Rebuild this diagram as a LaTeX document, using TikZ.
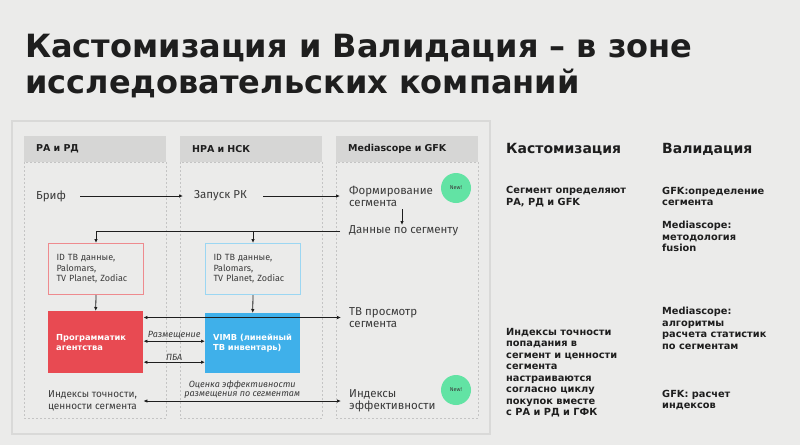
\documentclass[tikz,border=0pt]{standalone}
\usepackage{fontspec}
\setmainfont{Fira Sans}
\newfontfamily\heavyfont{DejaVu Sans}
\usetikzlibrary{arrows.meta}
\definecolor{bg}{HTML}{EBEBEA}
\definecolor{framec}{HTML}{D9D9D8}
\definecolor{hdrfill}{HTML}{D6D6D5}
\definecolor{dashc}{HTML}{C4C4C4}
\definecolor{txt}{HTML}{3A3A3A}
\definecolor{dark}{HTML}{1E1E1E}
\definecolor{redc}{HTML}{E84A52}
\definecolor{bluec}{HTML}{3FB0EA}
\definecolor{redline}{HTML}{EE8A8E}
\definecolor{blueline}{HTML}{9BD6F2}
\definecolor{newg}{HTML}{62E3A4}
\begin{document}
\begin{tikzpicture}[x=1pt,y=-1pt,
 lbl/.style={inner sep=0pt, anchor=west, align=left, text=txt, font=\fontsize{11.5}{12}\selectfont},
 hdr/.style={fill=hdrfill, anchor=north west, minimum height=26pt, inner xsep=12pt, text width=118pt, align=left, text=dark, font=\heavyfont\bfseries\fontsize{9.5}{10}\selectfont},
 idbox/.style={anchor=north west, fill=bg, line width=1pt, minimum width=95pt, minimum height=51pt, inner xsep=8pt, text width=79pt, align=left, text=txt, font=\fontsize{9}{10.5}\selectfont},
 solidbox/.style={anchor=north west, minimum width=95pt, inner xsep=8pt, text width=79pt, align=left, text=white, font=\heavyfont\bfseries\fontsize{8.3}{10}\selectfont},
 col/.style={draw=dashc, line width=0.6pt, dash pattern=on 2pt off 2pt},
 arr/.style={draw=dark, line width=0.8pt, -{Latex[length=4pt,width=3.5pt]}},
 darr/.style={draw=dark, line width=0.8pt, {Latex[length=4pt,width=3.5pt]}-{Latex[length=4pt,width=3.5pt]}},
 elab/.style={font=\itshape\fontsize{9}{9.5}\selectfont, text=txt, inner sep=1.5pt, align=center},
 newc/.style={circle, fill=newg, minimum size=30pt, inner sep=0pt, text=txt, font=\fontsize{5.5}{6}\selectfont},
 rhead/.style={inner sep=0pt, anchor=west, text=dark, font=\heavyfont\bfseries\fontsize{14}{16}\selectfont},
 rtext/.style={inner sep=0pt, anchor=west, align=left, text=dark, font=\heavyfont\bfseries\fontsize{9.8}{11.5}\selectfont},
 ttl/.style={inner sep=0pt, anchor=base west, text=dark, font=\heavyfont\bfseries\fontsize{32}{36}\selectfont},
]
\useasboundingbox (0,0) rectangle (800,445);
\fill[bg] (0,0) rectangle (800,445);

% title
\node[ttl] (title1) at (25,57) {Кастомизация и Валидация – в зоне};
\node[ttl] (title2) at (25,93) {исследовательских компаний};

% outer frame
\draw[draw=framec, line width=1.5pt] (12,121) rectangle (490,434);

% columns
\draw[col] (24,162) rectangle (166,418);
\draw[col] (180,162) rectangle (322,418);
\draw[col] (336,162) rectangle (478,418);
\node[hdr] (h1) at (24,136) {РА и РД};
\node[hdr] (h2) at (180,136) {НРА и НСК};
\node[hdr] (h3) at (336,136) {Mediascope и GFK};

% text nodes
\node[lbl] (brief) at (36,196) {Бриф};
\node[lbl] (launch) at (194,196) {Запуск РК};
\node[lbl] (form) at (349,196) {Формирование\\сегмента};
\node[lbl] (data) at (349,231) {Данные по сегменту};
\node[lbl] (tvview) at (349,317.5) {ТВ просмотр\\сегмента};
\node[lbl] (idxright) at (349,401) {Индексы\\эффективности};
\node[lbl, font=\fontsize{10}{11.5}\selectfont] (idxleft) at (48,401) {Индексы точности,\\ценности сегмента};

\node[newc] (new1) at (456,188) {New!};
\node[newc] (new2) at (456,390) {New!};

% boxes
\node[idbox, draw=redline] (idred) at (48,243) {ID ТВ данные,\\Palomars,\\TV Planet, Zodiac};
\node[idbox, draw=blueline] (idblue) at (205,243) {ID ТВ данные,\\Palomars,\\TV Planet, Zodiac};
\node[solidbox, fill=redc, minimum height=62pt] (prog) at (48,311) {Программатик\\агентства};
\node[solidbox, fill=bluec, minimum height=60pt] (vimb) at (205,313) {VIMB (линейный\\ТВ инвентарь)};

% connectors
\draw[arr] ([xshift=14pt]brief.east) -- ([xshift=-11pt]launch.west);
\draw[arr] ([xshift=16pt]launch.east) -- ([xshift=-9pt]form.west);
\draw[arr] ([xshift=53pt,yshift=-13pt]form.west) -- ([xshift=53pt,yshift=6pt]data.west);
\draw[arr] ([xshift=-9pt]data.west) -| (idred.north);
\draw[arr] (idblue.north |- data.west) -- (idblue.north);
\draw[arr] (idred.south) -- (prog.north);
\draw[arr] (idblue.south) -- (vimb.north);
\draw[darr] (prog.east |- tvview.west) -- ([xshift=-8pt]tvview.west);
\draw[darr] ([yshift=1pt]prog.east) -- ([yshift=1pt]prog.east -| vimb.west) node[elab, midway, above] {Размещение};
\draw[darr] ([yshift=-20pt]prog.east) -- ([yshift=-20pt]prog.east -| vimb.west) node[elab, midway, above] {ПБА};
\draw[darr] (prog.east |- idxleft.east) -- ([xshift=-8pt]idxright.west) node[elab, midway, above, yshift=1pt, font=\itshape\fontsize{9}{9}\selectfont] {Оценка эффективности\\размещения по сегментам};

% right side
\node[rhead] (kh) at (506,149) {Кастомизация};
\node[rhead] (vh) at (662,149) {Валидация};
\node[rtext] (k1) at (506,196.5) {Сегмент определяют\\РА, РД и GFK};
\node[rtext] (k2) at (506,372.5) {Индексы точности\\попадания в\\сегмент и ценности\\сегмента\\настраиваются\\согласно циклу\\покупок вместе\\с РА и РД и ГФК};
\node[rtext] (v1) at (662,196.5) {GFK:определение\\сегмента};
\node[rtext] (v2) at (662,236.5) {Mediascope:\\методология\\fusion};
\node[rtext] (v3) at (662,328.5) {Mediascope:\\алгоритмы\\расчета статистик\\по сегментам};
\node[rtext] (v4) at (662,400) {GFK: расчет\\индексов};
\end{tikzpicture}
\end{document}
